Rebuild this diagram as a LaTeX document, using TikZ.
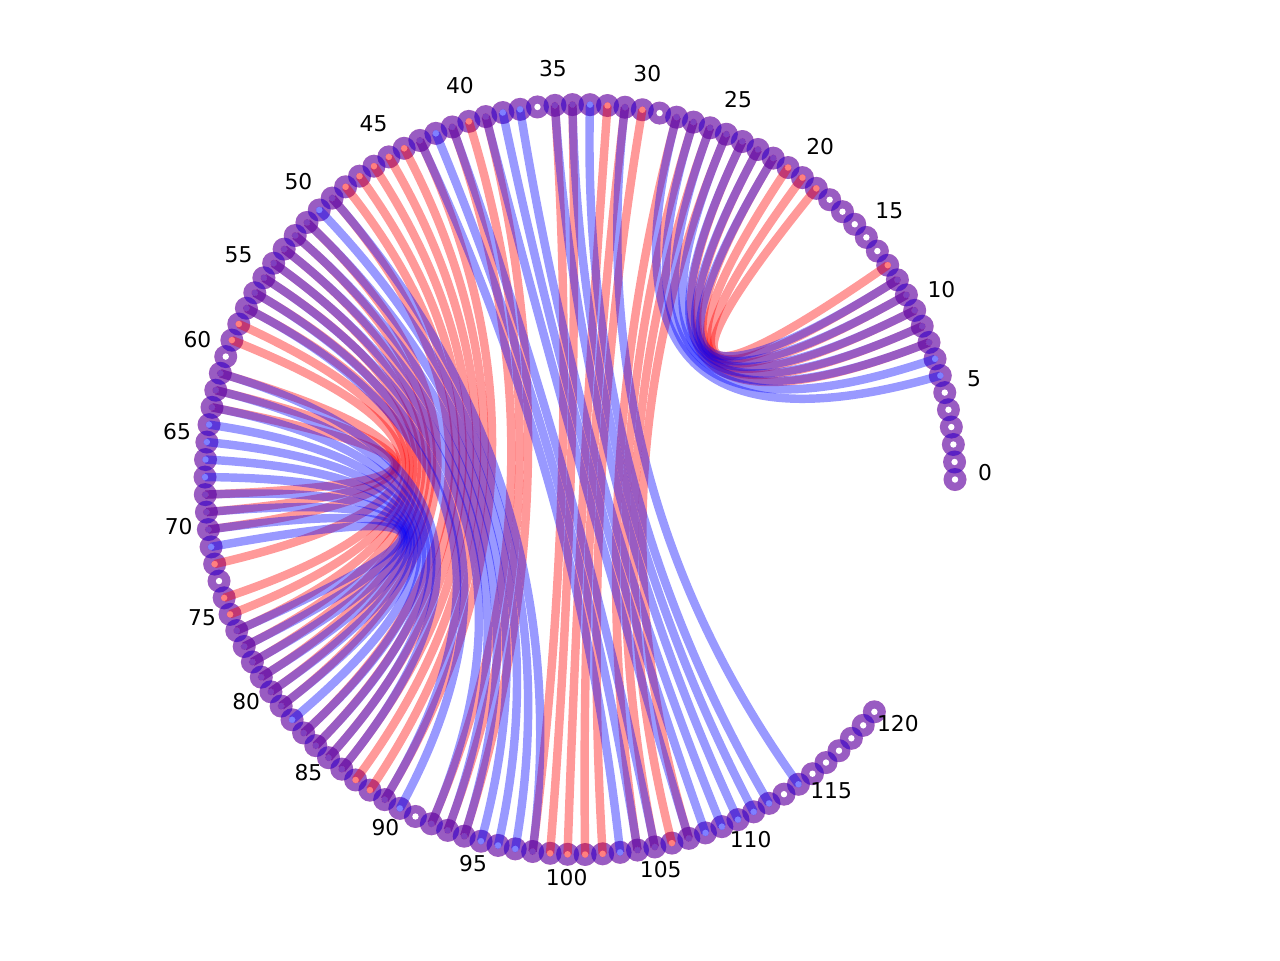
\documentclass[tikz,border=0pt]{standalone}
\usepackage{fontspec}
\setmainfont{DejaVu Sans}
\usetikzlibrary{calc}
\definecolor{pairred}{rgb}{1,0,0}
\definecolor{pairblue}{rgb}{0,0,1}

\begin{document}
\begin{tikzpicture}[
   ring/.style={circle,inner sep=0pt,minimum size=2.3mm},
   redarc/.style={line width=2.4pt,draw=pairred,draw opacity=0.4},
   bluearc/.style={line width=2.4pt,draw=pairblue,draw opacity=0.4},
   lbl/.style={font=\fontsize{6.2}{7.5}\selectfont,inner sep=0pt}]
  \useasboundingbox (-5.80,-4.805) rectangle (7.00,4.795);
  \coordinate (c) at (0,0);
  % bases on the circle
  \foreach \i in {0,...,120}
    \node[ring,fill=pairred,fill opacity=0.4] (n\i) at (\i*2.681:3.75) {};
  \foreach \i in {0,...,120}
    \fill[pairblue,opacity=0.4] (n\i.center) circle (1.15mm);
  % pairs of the first structure
  \foreach \a/\b in {13/19,12/20,11/21,10/22,9/23,8/24,
      41/92,40/93,39/94,35/98,34/99,32/100,31/101,30/102,
      28/104,27/105,26/106,25/107,
      49/83,48/84,47/85,46/86,45/87,44/88,43/89,
      59/72,58/74,57/75,56/76,55/77,54/78,53/79,52/80,51/81,
      63/68,62/69,61/70}
    \draw[redarc] (n\a.center) .. controls ($(n\a.center)!0.667!(c)$)
       and ($(n\b.center)!0.667!(c)$) .. (n\b.center);
  % pairs of the second structure
  \foreach \a/\b in {12/22,11/23,10/24,9/25,8/26,7/27,6/28,
      71/76,70/77,69/78,68/79,67/80,66/81,65/82,64/83,63/84,62/85,61/86,
      57/89,56/90,55/92,54/93,53/94,52/95,51/96,50/97,49/98,
      43/103,42/104,41/105,39/107,38/108,37/109,35/110,34/111,33/112,31/114}
    \draw[bluearc] (n\a.center) .. controls ($(n\a.center)!0.667!(c)$)
       and ($(n\b.center)!0.667!(c)$) .. (n\b.center);
  % centre dots
  \foreach \i in {0,...,120}
    \fill[white] (n\i.center) circle (0.32mm);
  \foreach \i in {8,...,13,19,20,...,28,30,31,32,34,35,39,40,41,43,44,...,49,
      51,52,...,59,61,62,63,68,69,70,72,74,75,...,81,83,84,...,89,
      92,93,94,98,99,...,102,104,105,106,107}
    \fill[pairred,opacity=0.5] (n\i.center) circle (0.34mm);
  \foreach \i in {6,7,...,12,22,23,...,28,31,33,34,35,37,38,39,41,42,43,
      49,50,...,57,61,62,...,71,76,77,...,86,89,90,92,93,...,98,
      103,104,105,107,108,...,112,114}
    \fill[pairblue,opacity=0.5] (n\i.center) circle (0.34mm);
  % index labels
  \foreach \i in {0,5,...,120}
    \node[lbl] (l\i) at ($(\i*2.681:4.05)+(0,0.07)$) {\i};
\end{tikzpicture}
\end{document}
